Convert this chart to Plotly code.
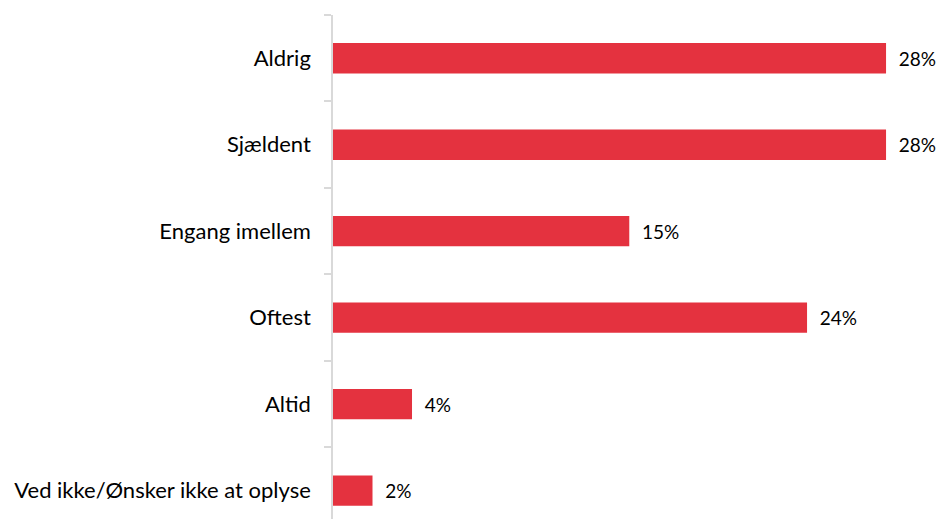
import plotly.graph_objects as go

categories = ["Aldrig", "Sjældent", "Engang imellem", "Oftest", "Altid", "Ved ikke/Ønsker ikke at oplyse"]
values = [28, 28, 15, 24, 4, 2]
value_labels = ["28%", "28%", "15%", "24%", "4%", "2%"]

fig = go.Figure(go.Bar(
    x=values, y=categories, orientation="h",
    marker=dict(color="#E4323F", line=dict(width=0)),
    width=0.35,
    text=["\u00a0\u00a0" + t for t in value_labels], textposition="outside",
    textfont=dict(family="Lato, Carlito, sans-serif", size=19, color="#000000"),
    cliponaxis=False,
    hoverinfo="skip",
))

fig.update_layout(
    width=930, height=511,
    margin=dict(l=325, r=0, t=7, b=0),
    paper_bgcolor="white", plot_bgcolor="white",
    showlegend=False,
    font=dict(family="Lato, Carlito, sans-serif", size=22, color="#000000"),
    xaxis=dict(range=[0, 30.63], visible=False, showgrid=False, zeroline=False),
    yaxis=dict(
        type="category", categoryorder="array", categoryarray=categories,
        range=[5.327, -0.5],
        showline=True, linecolor="#D9D9D9", linewidth=1.5,
        ticks="outside", tickson="boundaries", ticklen=7, tickcolor="#D9D9D9", tickwidth=1.5,
        ticklabelstandoff=16,
        showgrid=False, zeroline=False,
    ),
)

fig.write_html("out.html")
